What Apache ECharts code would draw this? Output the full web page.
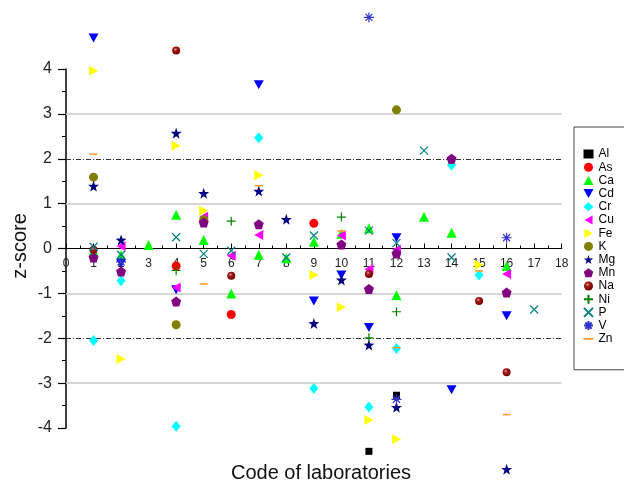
<!DOCTYPE html>
<html><head><meta charset="utf-8">
<script src="https://cdn.jsdelivr.net/npm/echarts@6/dist/echarts.min.js"></script>
<style>html,body{margin:0;padding:0;background:#fff}#c{width:624px;height:484px}</style>
</head><body><div id="c"></div>
<script>
// z-scores per element: [laboratory code, z-score]
const Al = [[11,-4.52],[12,-3.27]];
const As = [[4,-0.39],[6,-1.47],[9,0.56]];
const Ca = [[1,-0.06],[2,-0.15],[3,0.08],[4,0.75],[5,0.19],[6,-1.0],[7,-0.14],[8,-0.22],[9,0.15],[10,0.33],[11,0.45],[12,-1.04],[13,0.71],[14,0.35],[16,-0.39]];
const Cd = [[1,4.69],[2,-0.33],[4,-0.92],[7,3.65],[9,-1.17],[10,-0.59],[11,-1.76],[12,0.24],[14,-3.15],[16,-1.5]];
const Cr = [[1,-2.05],[2,-0.72],[4,-3.96],[7,2.47],[9,-3.12],[11,-3.53],[12,-2.23],[14,1.86],[15,-0.59]];
const Cu = [[2,0.05],[4,-0.87],[5,0.71],[6,-0.16],[7,0.30],[10,0.29],[11,-0.46],[12,-0.03],[16,-0.57]];
const Fe = [[1,3.96],[2,-2.46],[4,2.29],[5,0.84],[7,1.63],[9,-0.59],[10,-1.31],[11,-3.82],[12,-4.25],[15,-0.37]];
const K  = [[1,1.59],[4,-1.70],[5,0.64],[12,3.09]];
const Mg = [[1,1.39],[2,0.19],[4,2.57],[5,1.23],[7,1.28],[8,0.65],[9,-1.67],[10,-0.70],[11,-2.15],[12,-3.54],[16,-4.92]];
const Mn = [[1,-0.20],[2,-0.51],[4,-1.18],[5,0.58],[7,0.54],[10,0.09],[11,-0.90],[12,-0.11],[14,2.0],[16,-0.98]];
const Na = [[1,-0.03],[4,4.41],[6,-0.61],[11,-0.57],[15,-1.17],[16,-2.76]];
const Ni = [[4,-0.49],[6,0.61],[10,0.70],[11,-1.99],[12,-1.41]];
const P  = [[1,0.04],[2,-0.14],[4,0.25],[5,-0.12],[6,-0.05],[8,-0.20],[9,0.29],[11,0.40],[12,0.12],[13,2.18],[14,-0.20],[17,-1.36]];
const V  = [[2,-0.30],[11,5.15],[12,-3.36],[16,0.24]];
const Zn = [[1,2.10],[5,-0.79],[7,1.40],[10,0.39],[12,-2.21],[15,-0.50],[16,-3.70]];
const yTicks = [-4,-3,-2,-1,0,1,2,3,4];

const STAR = 'path://M10,0 L12.35,6.76 L19.51,6.91 L13.8,11.24 L15.88,18.09 L10,14 L4.12,18.09 L6.2,11.24 L0.49,6.91 L7.65,6.76 Z';
const PENT = 'path://M10,0 L19.51,6.91 L15.88,18.09 L4.12,18.09 L0.49,6.91 Z';
const DOWN = 'path://M0,0 L10,0 L5,9 Z';
const LEFT = 'path://M10,0 L10,10 L1,5 Z';
const RIGHT = 'path://M0,0 L9,5 L0,10 Z';
const PLUS = 'path://M5,0 L5,10 M0,5 L10,5';
const CROSS = 'path://M0,0 L10,10 M10,0 L0,10';
const AST = 'path://M1.5,1.5 L8.5,8.5 M8.5,1.5 L1.5,8.5 M5,0 L5,10 M0,5 L10,5';
const DASH = 'path://M0,0 L10,0 L10,1.8 L0,1.8 Z';

function s(name, data, symbol, size, color, extra) {
  const o = {name, type:'scatter', data, symbol, symbolSize:size, clip:false, z:2,
    itemStyle:{color, opacity:1}, emphasis:{disabled:true}};
  if (extra) Object.assign(o.itemStyle, extra);
  return o;
}
const sphere = {type:'radial', x:0.4, y:0.35, r:0.65, colorStops:[{offset:0,color:'#e8a0a0'},{offset:0.35,color:'#a01818'},{offset:1,color:'#700000'}]};

const series = [
  s('Al', Al, 'rect', 7, '#000000'),
  s('As', As, 'circle', 9, '#ff0000'),
  s('Ca', Ca, 'triangle', 10, '#00ff00'),
  s('Cd', Cd, DOWN, [10,9], '#0000ff'),
  s('Cr', Cr, 'diamond', [9,11], '#00ffff'),
  s('Cu', Cu, LEFT, [9,10], '#ff00ff'),
  s('Fe', Fe, RIGHT, [9,10], '#ffff00'),
  s('K', K, 'circle', 9, '#808000'),
  s('Mg', Mg, STAR, 11, '#000080'),
  s('Mn', Mn, PENT, 10, '#800080'),
  s('Na', Na, 'circle', 8, sphere),
  s('Ni', Ni, PLUS, 9, '#008000', {borderColor:'#008000', borderWidth:1.2}),
  s('P', P, CROSS, 8, '#008080', {borderColor:'#008080', borderWidth:1.2}),
  s('V', V, AST, 10, '#3333cc', {borderColor:'#3333cc', borderWidth:1.2}),
  s('Zn', Zn, 'rect', [8,1.6], '#ff9933')
];

const ml = (v, style) => [{coord:[0,v], lineStyle:style}, {coord:[18,v]}];
const gray = {color:'#c8c8c8', width:1.5, type:'solid'};
const dash = {color:'#333', width:1, type:[5,2,1,2]};
series[0].markLine = {
  silent:true, symbol:'none', label:{show:false}, animation:false, z:1,
  data:[ml(3,gray), ml(1,gray), ml(-1,gray), ml(-3,gray), ml(2,dash), ml(-2,dash)]
};

const legendData = series.map(x => x.name === 'Zn'
  ? {name:'Zn', icon:DASH, itemStyle:{color:'#ff9933'}}
  : {name:x.name});

const gridTop = 69, gridBottom = 56, plotH = 484 - gridTop - gridBottom;
const chart = echarts.init(document.getElementById('c'), null, {renderer:'canvas'});
chart.setOption({
  animation:false,
  backgroundColor:'#ffffff',
  textStyle:{fontFamily:'Liberation Sans, Arial, sans-serif'},
  grid:{left:66, right:62.3, top:gridTop, bottom:gridBottom},
  xAxis:{type:'value', min:0, max:18, interval:1, position:'bottom',
    offset:-plotH/2,
    axisLine:{onZero:false, lineStyle:{color:'#000', width:1.2}},
    axisTick:{inside:true, length:5, lineStyle:{color:'#000'}},
    minorTick:{show:true, splitNumber:2, length:3, lineStyle:{color:'#000'}},
    axisLabel:{fontSize:12, color:'#222', margin:9},
    splitLine:{show:false}},
  yAxis:{type:'value', min:-4, max:4, interval:1,
    axisLine:{show:true, lineStyle:{color:'#000', width:1.5}},
    axisTick:{show:true, length:8, lineStyle:{color:'#000', width:1.2}},
    minorTick:{show:true, splitNumber:2, length:4, lineStyle:{color:'#000'}},
    axisLabel:{fontSize:16, color:'#222', margin:14, customValues:yTicks},
    splitLine:{show:false}},
  legend:{orient:'vertical', left:574, top:127, backgroundColor:'#fff',
    borderColor:'#444', borderWidth:1, padding:[21,40,25,9],
    itemWidth:10, itemHeight:9, itemGap:1.2, itemTextGap:11,
    textStyle:{fontSize:12, color:'#000'},
    data:legendData},
  graphic:[
    {type:'text', x:20, y:246, rotation:Math.PI/2,
      style:{text:'z-score', font:'20px "Liberation Sans", Arial, sans-serif', fill:'#111', align:'center', verticalAlign:'middle'}},
    {type:'text', x:321, y:473,
      style:{text:'Code of laboratories', font:'20px "Liberation Sans", Arial, sans-serif', fill:'#111', align:'center', verticalAlign:'middle'}}
  ],
  series
});
</script></body></html>
